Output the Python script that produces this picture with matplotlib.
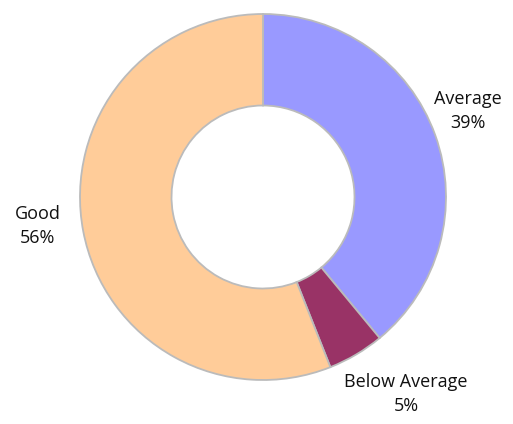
import matplotlib
matplotlib.use("Agg")
import matplotlib.pyplot as plt
import numpy as np

labels = ["Average", "Below Average", "Good"]
values = [39, 5, 56]
colors = ["#9999FF", "#993366", "#FFCC99"]
# label placement (angle in degrees, distance in radii)
label_pos = [(22.8, 1.215), (-54.0, 1.33), (187.3, 1.242)]

W, H, dpi = 513, 424, 100
cx, cy, R = 263, 197, 183  # pixels, from top-left

fig = plt.figure(figsize=(W / dpi, H / dpi), dpi=dpi)
ax = fig.add_axes([0, 0, 1, 1])
ax.axis("off")

ax.pie(values, colors=colors, startangle=90, counterclock=False, radius=1,
       wedgeprops=dict(width=0.5, edgecolor="#BBBBBB", linewidth=1.3))
ax.set_xlim(-cx / R, (W - cx) / R)
ax.set_ylim(-(H - cy) / R, cy / R)

total = sum(values)
for lab, v, (ang, d) in zip(labels, values, label_pos):
    a = np.deg2rad(ang)
    ax.text(d * np.cos(a), d * np.sin(a), f"{lab}\n{round(v / total * 100)}%",
            ha="center", va="center", fontsize=13, family="Open Sans",
            linespacing=1.45, color="#111111")

fig.savefig("out.png", dpi=dpi)
